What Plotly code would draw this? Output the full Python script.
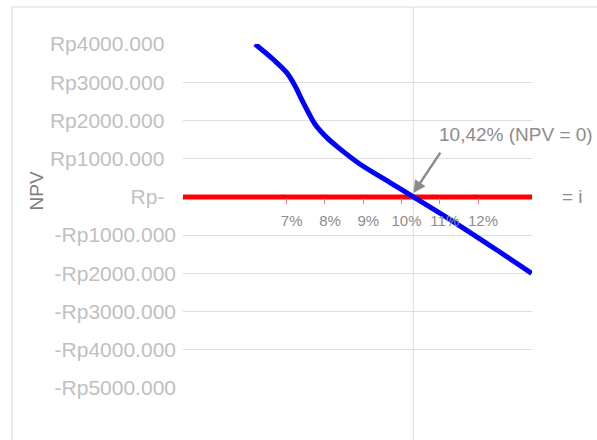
import plotly.graph_objects as go

# Data
rate = [6.17, 6.65, 7.0, 7.22, 7.39, 7.57, 7.74, 8.05, 8.35, 8.92, 9.70, 10.31, 11.28, 12.49, 13.40]
npv = [4000, 3595, 3250, 2900, 2550, 2200, 1900, 1550, 1290, 854, 376, 0, -600, -1390, -2000]

i_rate = [4.29, 13.41]
i_val = [0, 0]

x_tickvals = [7, 8, 9, 10, 11, 12]
x_ticktext = ["7%", "8%", "9%", "10%", "11%", "12%"]

y_tickvals = [4000, 3000, 2000, 1000, 0, -1000, -2000, -3000, -4000, -5000]
y_ticktext = ["Rp4000.000\u00a0\u00a0", "Rp3000.000\u00a0\u00a0", "Rp2000.000\u00a0\u00a0",
              "Rp1000.000\u00a0\u00a0", "Rp-\u00a0\u00a0", "-Rp1000.000", "-Rp2000.000",
              "-Rp3000.000", "-Rp4000.000", "-Rp5000.000"]

irr_rate = 10.31
irr_label = "10,42% (NPV = 0)"

FONT = "Liberation Sans, Arial, sans-serif"

fig = go.Figure()
fig.add_trace(go.Scatter(x=i_rate, y=i_val, mode="lines",
                         line=dict(color="#ff0000", width=5), hoverinfo="skip"))
fig.add_trace(go.Scatter(x=rate, y=npv, mode="lines",
                         line=dict(color="#0000ff", width=5, shape="spline", smoothing=1.0)))

W, H = 597, 440
L, T = 183, 44
R, B = 597 - 532, 440 - 388
pw, ph = W - L - R, H - T - B


def px_x(p):
    return (p - L) / pw


def px_y(p):
    return (H - B - p) / ph


fig.update_layout(
    width=W, height=H,
    margin=dict(l=L, r=R, t=T, b=B),
    paper_bgcolor="white", plot_bgcolor="white",
    showlegend=False,
    font=dict(family=FONT),
    xaxis=dict(range=[4.29, 13.41], tickvals=x_tickvals, ticktext=x_ticktext,
               anchor="free", position=5 / 9, showgrid=False, zeroline=False, showline=False,
               ticks="outside", ticklen=6, tickwidth=1, tickcolor="#ff7070",
               tickfont=dict(size=15, color="#8c8c8c", family=FONT),
               ticklabelshift=5, ticklabelstandoff=4),
    yaxis=dict(range=[-5000, 4000], tickvals=y_tickvals, ticktext=y_ticktext,
               showgrid=True, gridcolor="#dedede", gridwidth=1.3, zeroline=False, showline=False,
               ticks="", tickfont=dict(size=21, color="#c0c0c0", family=FONT),
               ticklabelstandoff=6),
    shapes=[
        dict(type="line", xref="paper", yref="paper", x0=px_x(12), x1=px_x(12),
             y0=px_y(440), y1=px_y(7), line=dict(color="#dcdcdc", width=1.2), layer="below"),
        dict(type="line", xref="paper", yref="paper", x0=px_x(12), x1=px_x(597),
             y0=px_y(7), y1=px_y(7), line=dict(color="#dcdcdc", width=1.2), layer="below"),
        dict(type="line", xref="x", yref="paper", x0=irr_rate, x1=irr_rate,
             y0=px_y(440), y1=px_y(7), line=dict(color="#e0e0e0", width=1.2), layer="below"),
    ],
    annotations=[
        dict(text="NPV", textangle=-90, xref="paper", yref="paper", x=px_x(35.5), y=px_y(191),
             xanchor="center", yanchor="middle",
             showarrow=False, font=dict(size=19, color="#7f7f7f", family=FONT)),
        dict(text=irr_label, xref="paper", yref="paper", x=px_x(516), y=px_y(134),
             xanchor="center", yanchor="middle",
             showarrow=False, font=dict(size=19, color="#8c8c8c", family=FONT)),
        dict(text="", x=irr_rate, y=100, xref="x", yref="y", showarrow=True,
             ax=28, ay=-42, arrowcolor="#8c8c8c", arrowwidth=2.5, arrowhead=2, arrowsize=1),
        dict(text="= i", xref="paper", yref="y", x=px_x(560), y=0, xanchor="left",
             yanchor="middle", showarrow=False, font=dict(size=19, color="#8c8c8c", family=FONT)),
    ],
)

fig.write_html("out.html", config={"displayModeBar": False},
               post_script="document.body.style.margin='0';document.body.style.overflow='hidden';")
